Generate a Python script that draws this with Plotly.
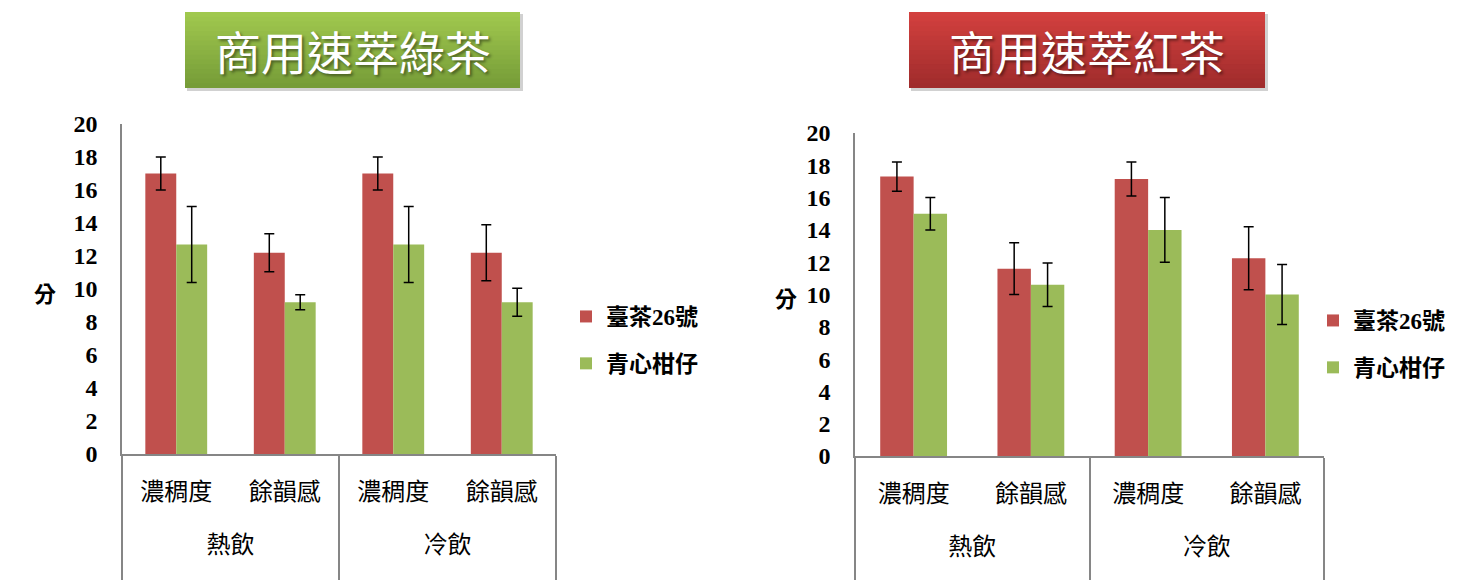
import plotly.graph_objects as go

# categories
drink = ["熱飲", "熱飲", "冷飲", "冷飲"]
attribute = ["濃稠度", "餘韻感", "濃稠度", "餘韻感"]
series_names = ["臺茶26號", "青心柑仔"]
panel_titles = ["商用速萃綠茶", "商用速萃紅茶"]
y_label = "分"
y_ticks = [0, 2, 4, 6, 8, 10, 12, 14, 16, 18, 20]

# 商用速萃綠茶
green_tt26 = [17.0, 12.2, 17.0, 12.2]
green_tt26_err = [1.0, 1.15, 1.0, 1.7]
green_qx = [12.7, 9.2, 12.7, 9.2]
green_qx_err = [2.3, 0.45, 2.3, 0.85]

# 商用速萃紅茶
black_tt26 = [17.3, 11.6, 17.15, 12.25]
black_tt26_err = [0.9, 1.6, 1.05, 1.95]
black_qx = [15.0, 10.6, 14.0, 10.0]
black_qx_err = [1.0, 1.35, 2.0, 1.85]

RED = "#C0504D"
GREEN = "#9BBB59"
AXIS = "#868686"
W, H = 1483, 580
PAGE_PAD = 8  # the page body margin shifts the figure by this much
CJK = "Noto Sans CJK TC"
SERIF = "Liberation Serif, Noto Sans CJK TC"


def px(x):
    return (x - PAGE_PAD) / W


def py(y):
    return 1 - (y - PAGE_PAD) / H


fig = go.Figure()

# trailing blank lines push the second label row down and lengthen the dividers
x_labels = [[d + "<br> " for d in drink], [a + "<br> " for a in attribute]]

panels = [
    ("x", "y", "legend", [green_tt26, green_qx], [green_tt26_err, green_qx_err]),
    ("x2", "y2", "legend2", [black_tt26, black_qx], [black_tt26_err, black_qx_err]),
]
for xa, ya, lg, vals, errs in panels:
    for name, v, e, col in zip(series_names, vals, errs, [RED, GREEN]):
        fig.add_trace(go.Bar(
            x=x_labels, y=v, name=name, marker_color=col,
            marker_line_width=0, xaxis=xa, yaxis=ya, legend=lg,
            legendgroup=name,
            error_y=dict(type="data", array=e, visible=True, color="black",
                         thickness=1.5, width=5),
        ))

xcommon = dict(type="multicategory", showline=True, linecolor=AXIS, linewidth=1.5,
               showdividers=True, dividercolor=AXIS, dividerwidth=1.5,
               ticks="", showgrid=False, automargin=False, ticklabelstandoff=15,
               tickfont=dict(family=CJK, size=24, color="black"))
ycommon = dict(range=[0, 20], tickvals=y_ticks, showline=True, linecolor=AXIS,
               linewidth=1.5, showgrid=False, zeroline=False, ticks="",
               ticklabelstandoff=18, automargin=False,
               tickfont=dict(family=SERIF, size=24, color="black", weight="bold"))

legend_common = dict(yanchor="middle", xanchor="left", bgcolor="rgba(0,0,0,0)",
                     tracegroupgap=14,
                     font=dict(family=SERIF, size=23, color="black", weight="bold"))

fig.update_layout(
    width=W, height=H, autosize=False,
    margin=dict(l=0, r=0, t=0, b=0, autoexpand=False),
    paper_bgcolor="white", plot_bgcolor="white",
    barmode="group", bargap=0.43, bargroupgap=0,
    xaxis=dict(domain=[px(122), px(556)], anchor="y", **xcommon),
    yaxis=dict(domain=[py(454), py(124)], anchor="x", **ycommon),
    xaxis2=dict(domain=[px(855), px(1324)], anchor="y2", **xcommon),
    yaxis2=dict(domain=[py(456), py(133)], anchor="x2", **ycommon),
    legend=dict(x=px(566), y=py(340), **legend_common),
    legend2=dict(x=px(1313), y=py(344), **legend_common),
    showlegend=True,
)

# title boxes with a vertical gradient and a soft shadow
boxes = [
    (185, 520, 12, 88, (160, 200, 78), (118, 156, 56)),
    (909, 1265, 12, 88, (210, 64, 62), (160, 44, 44)),
]
shapes = []
for x0, x1, y0, y1, top, bot in boxes:
    shapes.append(dict(type="rect", xref="paper", yref="paper",
                       x0=px(x0 + 2), x1=px(x1 + 3), y0=py(y1 + 3), y1=py(y0 + 2),
                       fillcolor="rgba(0,0,0,0.18)", line_width=0, layer="below"))
    n = 16
    for i in range(n):
        t = i / (n - 1)
        c = tuple(round(a + (b - a) * t) for a, b in zip(top, bot))
        ya = y0 + (y1 - y0) * i / n
        yb = min(y1, y0 + (y1 - y0) * (i + 1) / n + 1.5)
        shapes.append(dict(type="rect", xref="paper", yref="paper",
                           x0=px(x0), x1=px(x1), y0=py(yb), y1=py(ya),
                           fillcolor="rgb(%d,%d,%d)" % c, line_width=0, layer="below"))
fig.update_layout(shapes=shapes)

for (x0, x1, y0, y1, _, _), title in zip(boxes, panel_titles):
    fig.add_annotation(x=px((x0 + x1) / 2), y=py((y0 + y1) / 2), xref="paper", yref="paper",
                       xanchor="center", yanchor="middle",
                       text=title, showarrow=False,
                       font=dict(family=CJK, size=46, color="white",
                                 shadow="2px 2px 3px rgba(0,0,0,0.45)"))

for xpx, ypx in [(45, 292), (786, 297)]:
    fig.add_annotation(x=px(xpx), y=py(ypx), xref="paper", yref="paper",
                       xanchor="center", yanchor="middle",
                       text=y_label, showarrow=False,
                       font=dict(family=CJK, size=22, color="black", weight="bold"))

fig.write_html("out.html")
